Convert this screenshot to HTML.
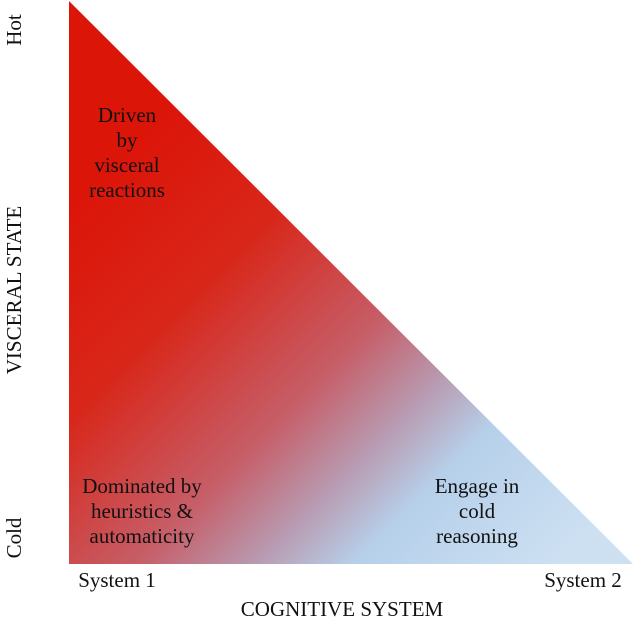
<!DOCTYPE html>
<html><head><style>
body{margin:0;background:#fff;}
svg text{font-family:"Liberation Serif",serif;fill:#111;font-size:21px;}
</style></head><body>
<svg width="634" height="625" xmlns="http://www.w3.org/2000/svg">
<defs>
<linearGradient id="g" gradientUnits="userSpaceOnUse" x1="140" y1="140" x2="560" y2="560">
<stop offset="0" stop-color="#dc1509"/>
<stop offset="0.25" stop-color="#d8271a"/>
<stop offset="0.5" stop-color="#c65e68"/>
<stop offset="0.64" stop-color="#b89ab0"/>
<stop offset="0.76" stop-color="#b6d0ea"/>
<stop offset="1" stop-color="#cde0f2"/>
</linearGradient>
</defs>
<polygon points="69,1 69,564 633,564" fill="url(#g)"/>
<g text-anchor="middle">
<text x="127" y="122">Driven</text>
<text x="127" y="147">by</text>
<text x="127" y="172">visceral</text>
<text x="127" y="197">reactions</text>
<text x="142" y="493">Dominated by</text>
<text x="142" y="518">heuristics &amp;</text>
<text x="142" y="543">automaticity</text>
<text x="477" y="493">Engage in</text>
<text x="477" y="518">cold</text>
<text x="477" y="543">reasoning</text>
<text x="117" y="587">System 1</text>
<text x="583" y="587">System 2</text>
<text x="342" y="616">COGNITIVE SYSTEM</text>
<text transform="translate(21,290) rotate(-90)">VISCERAL STATE</text>
<text transform="translate(21,30) rotate(-90)">Hot</text>
<text transform="translate(21,538) rotate(-90)">Cold</text>
</g>
</svg>
</body></html>
